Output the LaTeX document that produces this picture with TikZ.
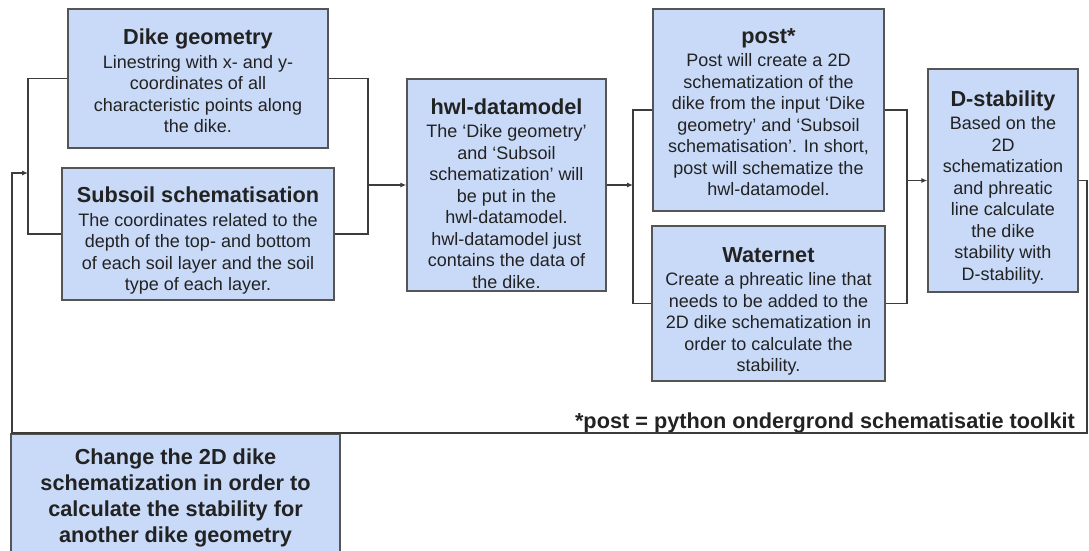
\documentclass[tikz,border=0pt]{standalone}
\usepackage{fontspec}
\setmainfont{Liberation Sans}
\usetikzlibrary{arrows.meta}

\definecolor{boxfill}{HTML}{C9DAF8}
\definecolor{boxline}{HTML}{555555}
\definecolor{wire}{HTML}{3C3C3C}
\definecolor{ink}{HTML}{222222}

% title line of a box; the optional value lowers the text block by half of it
\newcommand{\ttl}[2][0pt]{\rule{0pt}{\dimexpr 19pt+#1\relax}{\fontsize{21.7}{24}\selectfont\bfseries #2}\\[2pt]}

\begin{document}
\begin{tikzpicture}[x=1pt, y=-1pt,
  every node/.style={text=ink},
  stage/.style={draw=boxline, line width=1.4pt, fill=boxfill, inner sep=0pt,
    align=center, font=\fontsize{18}{21.5}\selectfont},
  wire/.style={draw=wire, line width=1.1pt},
  arr/.style={wire, -{Latex[length=6pt, width=5pt]}}]

\useasboundingbox (0,0) rectangle (1089,551);
\clip (0,0) rectangle (1089,551);

% Boxes
\node[stage, minimum width=260pt, minimum height=139pt] (dike) at (198,78.5)
  {\ttl[2pt]{Dike geometry}Linestring with x- and y-\\coordinates of all\\characteristic points along\\the dike.};
\node[stage, minimum width=272pt, minimum height=132pt] (subsoil) at (198,234)
  {\ttl[10pt]{Subsoil schematisation}The coordinates related to the\\depth of the top- and bottom\\of each soil layer and the soil\\type of each layer.};
\node[stage, minimum width=199pt, minimum height=212pt] (hwl) at (506.5,185)
  {\ttl[14pt]{hwl-datamodel}The ‘Dike geometry’\\and ‘Subsoil\\schematization’ will\\be put in the\\hwl-datamodel.\\hwl-datamodel just\\contains the data of\\the dike.};
\node[stage, minimum width=231pt, minimum height=202pt] (post) at (768.5,110)
  {\ttl{post*}Post will create a 2D\\schematization of the\\dike from the input ‘Dike\\geometry’ and ‘Subsoil\\schematisation’. In short,\\post will schematize the\\hwl-datamodel.};
\node[stage, minimum width=233pt, minimum height=155pt] (waternet) at (768.5,303.5)
  {\ttl[12pt]{Waternet}Create a phreatic line that\\needs to be added to the\\2D dike schematization in\\order to calculate the\\stability.};
\node[stage, minimum width=150pt, minimum height=223pt] (dstab) at (1003,180.5)
  {\ttl[10pt]{D-stability}Based on the\\2D\\schematization\\and phreatic\\line calculate\\the dike\\stability with\\D-stability.};
\node[stage, minimum width=329pt, minimum height=128pt,
  font=\fontsize{21.7}{26}\selectfont\bfseries] (change) at (175.5,498)
  {Change the 2D dike\\schematization in order to\\calculate the stability for\\another dike geometry};

% Footnote
\node[anchor=base east, inner sep=0pt, font=\fontsize{21.7}{24}\selectfont\bfseries]
  (note) at (1075,428) {*post = python ondergrond schematisatie toolkit};

% Junctions
\coordinate (lbr) at (28,173);
\coordinate (rbr) at (368,185);
\coordinate (pbl) at (633,185);
\coordinate (pbr) at (907,180.5);
\coordinate (fbr) at (1087,433);
\coordinate (fbl) at (12,433);

% Connectors
\draw[wire] (dike.west) -| (lbr) |- (subsoil.west);
\draw[wire] (dike.east) -| (rbr) |- (subsoil.east);
\draw[arr] (rbr) -- (hwl.west);
\draw[wire] (post.west) -| (pbl) |- (waternet.west);
\draw[arr] (hwl.east) -- (pbl);
\draw[wire] (post.east) -| (pbr) |- (waternet.east);
\draw[arr] (pbr) -- (dstab.west);
\draw[arr] (dstab.east) -| (fbr) -- (fbl) |- (lbr);

\end{tikzpicture}
\end{document}
